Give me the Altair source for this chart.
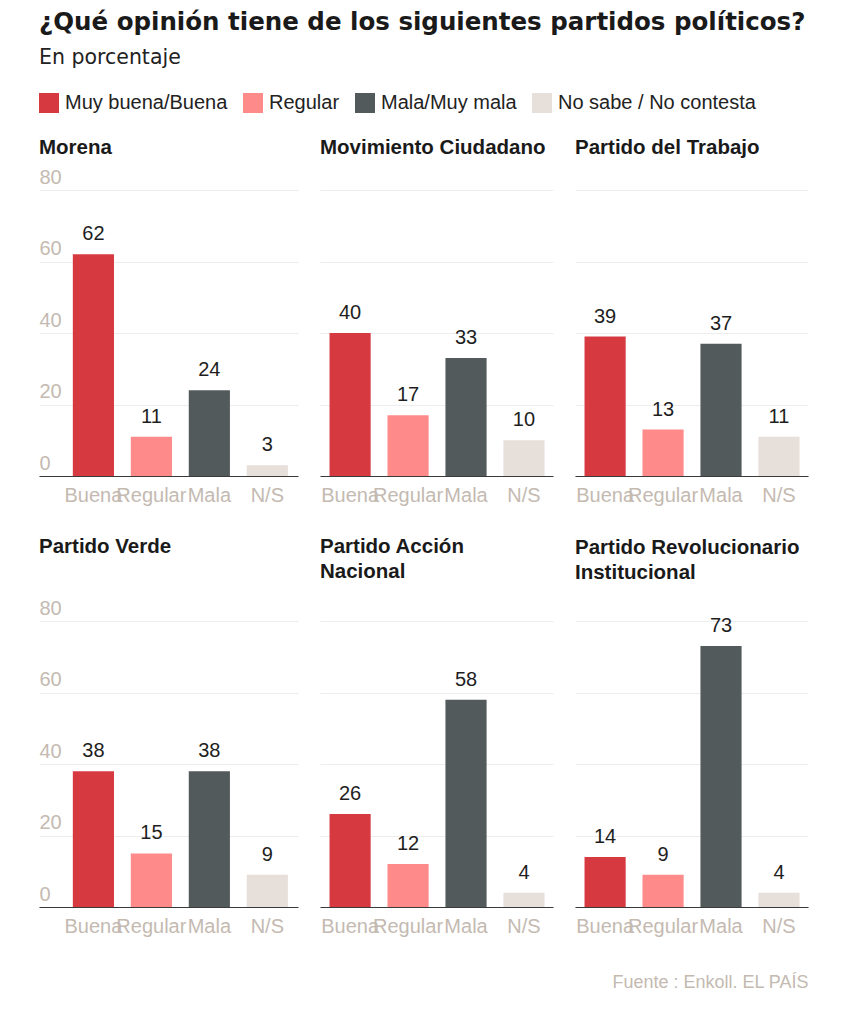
import altair as alt
import pandas as pd

# ---- data ----
partidos = ["Morena", "Movimiento Ciudadano", "Partido del Trabajo",
            "Partido Verde", "Partido Acción Nacional",
            "Partido Revolucionario Institucional"]
titulos = [["Morena"], ["Movimiento Ciudadano"], ["Partido del Trabajo"],
           ["Partido Verde", " "], ["Partido Acción", "Nacional"],
           ["Partido Revolucionario", "Institucional"]]
categorias = ["Muy buena/Buena", "Regular", "Mala/Muy mala", "No sabe / No contesta"]
etiquetas = ["Buena", "Regular", "Mala", "N/S"]
buena = [62, 40, 39, 38, 26, 14]
regular = [11, 17, 13, 15, 12, 9]
mala = [24, 33, 37, 38, 58, 73]
nsnc = [3, 10, 11, 9, 4, 4]
y_ticks = [0, 20, 40, 60, 80]
colores = ["#d63a40", "#ff8a8a", "#535a5c", "#e7dfda"]
titulo = "¿Qué opinión tiene de los siguientes partidos políticos?"
subtitulo = "En porcentaje"
fuente = "Fuente : Enkoll. EL PAÍS"

rows = []
series = [buena, regular, mala, nsnc]
for i, p in enumerate(partidos):
    for c, e, s in zip(categorias, etiquetas, series):
        rows.append({"partido": p, "categoria": c, "etiqueta": e, "valor": s[i]})
df = pd.DataFrame(rows)

LABEL_GRAY = "#c4bab1"
SANS = "Liberation Sans"
# title offsets per panel (compensate for differing bounds)
offsets = [-7, 16, 16, 0, 23, 17]


def panel(i, first_col, footer=False):
    sub = df[df["partido"] == partidos[i]]
    w = 259 if first_col else 233
    xscale = alt.Scale(domain=etiquetas, paddingInner=0.29,
                       paddingOuter=0.379 if first_col else 0.155,
                       align=0.77 if first_col else 0.53)
    xaxis_kw = dict(title=None, labelAngle=0, ticks=False, tickSize=0,
                    domain=True, domainColor="#3a3a3a", domainWidth=1,
                    labelFontSize=20, labelFont=SANS, labelColor=LABEL_GRAY,
                    labelBaseline="alphabetic", labelPadding=25, grid=False)
    if footer:
        xaxis_kw.update(title=fuente, titleFont=SANS, titleFontSize=18,
                        titleFontWeight="normal", titleColor=LABEL_GRAY,
                        titleAlign="right", titleBaseline="alphabetic",
                        titleX=w, titleY=80, titleAnchor="end")
    if first_col:
        yaxis = alt.Axis(title=None, values=y_ticks, domain=False, ticks=False,
                         tickSize=0, grid=True, gridColor="#ededed",
                         labelAlign="left", labelBaseline="alphabetic",
                         labelPadding=0, labelOffset=-7, labelFontSize=20,
                         labelFont=SANS, labelColor=LABEL_GRAY)
    else:
        yaxis = alt.Axis(title=None, values=y_ticks, domain=False, ticks=False,
                         tickSize=0, grid=True, gridColor="#ededed", labels=False)
    x = alt.X("etiqueta:N", scale=xscale, sort=etiquetas, axis=alt.Axis(**xaxis_kw))
    y = alt.Y("valor:Q", scale=alt.Scale(domain=[0, 80], nice=False), axis=yaxis)
    bars = alt.Chart(sub).mark_bar().encode(
        x=x, y=y,
        color=alt.Color("categoria:N", scale=alt.Scale(domain=categorias, range=colores),
                        legend=alt.Legend(orient="none", legendX=0, legendY=-97,
                                          direction="horizontal", title=None,
                                          symbolType="square", symbolSize=400,
                                          symbolStrokeWidth=0, symbolOpacity=1,
                                          labelFontSize=20, labelFont=SANS,
                                          labelColor="#222222", columnPadding=15,
                                          labelOffset=6, labelLimit=400)),
    )
    text = alt.Chart(sub).mark_text(baseline="alphabetic", dy=-14, fontSize=20,
                                    font=SANS, color="#1e1e1e").encode(
        x=alt.X("etiqueta:N", scale=xscale, sort=etiquetas),
        y=alt.Y("valor:Q"),
        text=alt.Text("valor:Q"),
    )
    return alt.layer(bars, text).properties(
        width=w, height=286,
        title=alt.TitleParams(text=titulos[i], anchor="start", frame="group",
                              font=SANS, fontSize=20.5, fontWeight="bold",
                              color="#1a1a1a", baseline="alphabetic",
                              offset=offsets[i], lineHeight=25),
    )


panels = [panel(0, True), panel(1, False), panel(2, False),
          panel(3, True), panel(4, False), panel(5, False, footer=True)]

chart = alt.concat(*panels, columns=3, spacing={"row": 145, "column": 22},
                   bounds="flush", align="each").properties(
    title=alt.TitleParams(text=titulo, subtitle=subtitulo, anchor="start",
                          font="DejaVu Sans", fontSize=24.5, fontWeight="bold",
                          color="#1a1a1a", subtitleFont="DejaVu Sans",
                          subtitleFontSize=20.5, subtitleColor="#222222",
                          subtitlePadding=12, offset=24),
    padding={"left": 31, "top": 2, "right": 10, "bottom": 10},
).configure(
    background="white",
    view=alt.ViewConfig(stroke="transparent", strokeWidth=0),
)

chart.save("out.html", embed_options={"renderer": "svg", "actions": False})
